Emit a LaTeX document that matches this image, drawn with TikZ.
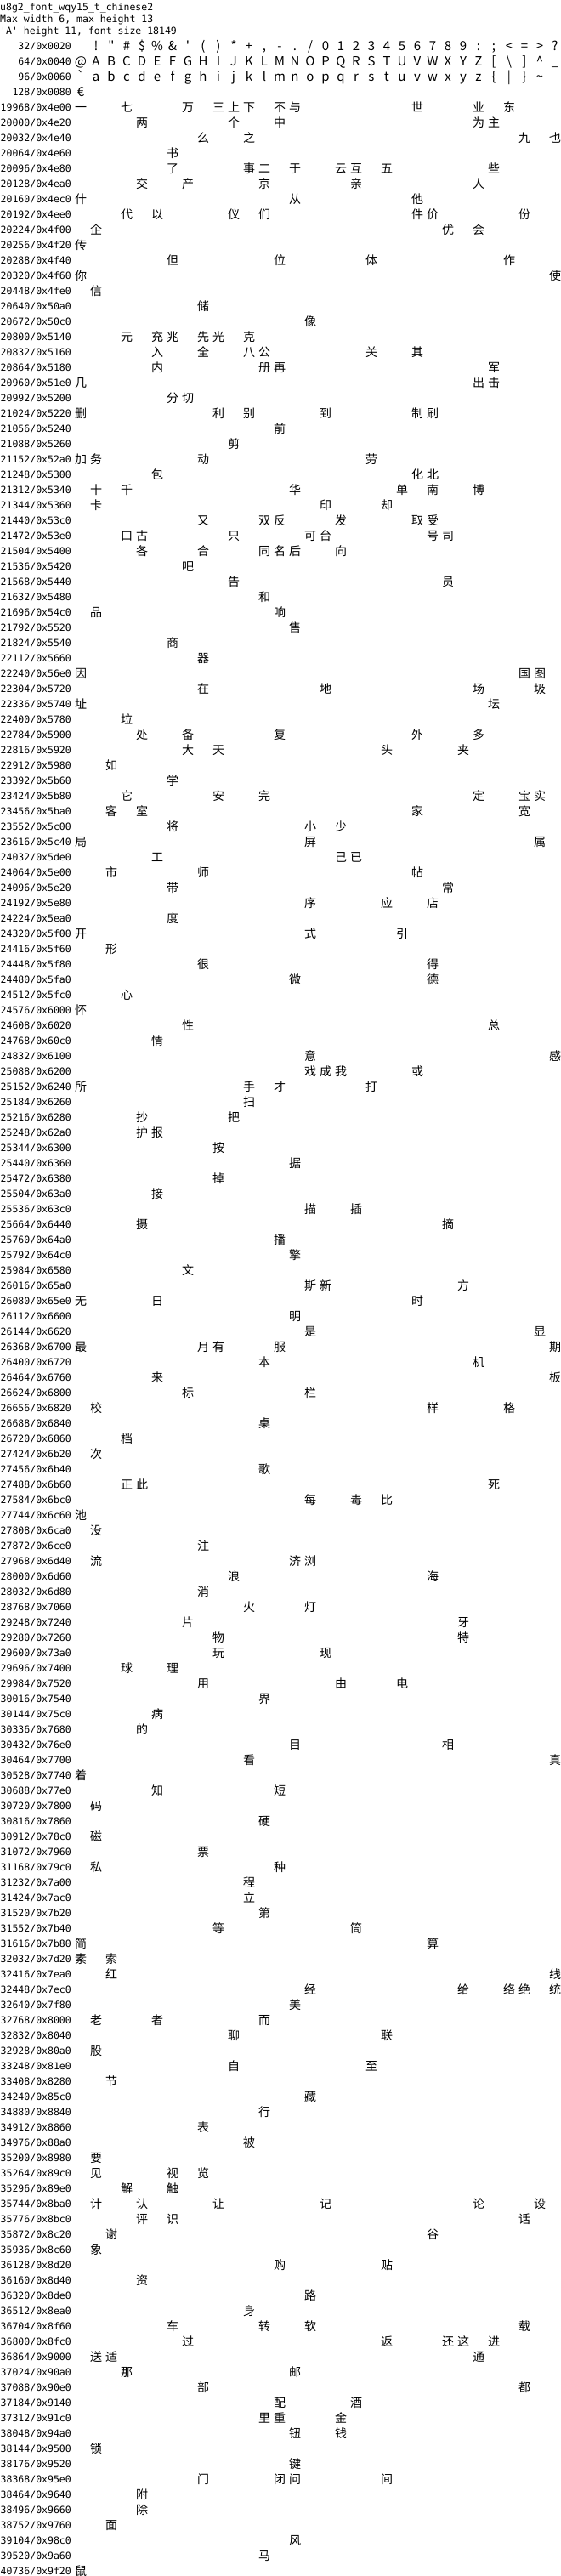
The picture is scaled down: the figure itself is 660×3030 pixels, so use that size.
\documentclass[tikz,border=0pt]{standalone}
\usepackage{fontspec}
\newfontfamily\cjkfont[Ligatures=TeXOff]{Noto Sans CJK SC}
\newfontfamily\lblfont[Ligatures=TeXOff]{DejaVu Sans Mono}
\tikzset{
  lbl/.style={anchor=base east, inner sep=0pt, font=\lblfont\fontsize{11.5}{12}\selectfont},
  hdr/.style={anchor=base west, inner sep=0pt, font=\lblfont\fontsize{11.5}{12}\selectfont},
  glyph/.style={anchor=base, inner sep=0pt, font=\cjkfont\fontsize{14}{15}\selectfont},
  asc/.style={anchor=base, inner sep=0pt, font=\cjkfont\fontsize{15}{16}\selectfont},
}
\def\rowstart{0}
\def\rowk{0}
\newcommand\glyphrow[4]{%
  \pgfmathsetmacro\ly{130.5+18*#1}%
  \node[lbl] (row#2) at (84,\ly) {#2/0x#3};%
  \def\rowstart{#2}\def\rowk{#1}%
  \glyphloop#4\relax}
\def\glyphloop#1{\ifx\relax#1\else\placeglyph{#1}\expandafter\glyphloop\fi}
\newcommand\placeglyph[1]{%
  \edef\cpnum{\number`#1}%
  \edef\gx{\the\numexpr 95+18*(\cpnum-\rowstart)\relax}%
  \edef\gy{\the\numexpr 131+18*\rowk\relax}%
  \node[glyph] (g\cpnum) at (\gx,\gy) {#1};}
\begin{document}
\begin{tikzpicture}[x=1pt,y=-1pt]
\fill[white] (0,0) rectangle (660,3030);
\useasboundingbox (0,0) rectangle (660,3030);
% header
\node[hdr] (title) at (0,12.3) {u8g2\_font\_wqy15\_t\_chinese2};
\node[hdr] (maxw) at (0,26.7) {Max width 6, max height 13};
\node[hdr] (aheight) at (0,40.8) {\char39 A\char39{} height 11, font size 18149};
% ASCII rows
\node[lbl] (row32) at (84,58.5) {32/0x0020};
\node[lbl] (row64) at (84,76.5) {64/0x0040};
\node[lbl] (row96) at (84,94.5) {96/0x0060};
\node[lbl] (row128) at (84,112.5) {128/0x0080};
\foreach \c in {33,...,63}{\pgfmathsetmacro\gx{95+18*(\c-32)}\node[asc] (a\c) at (\gx,59) {\char\c\relax};}
\foreach \c in {64,...,95}{\pgfmathsetmacro\gx{95+18*(\c-64)}\node[asc] (a\c) at (\gx,77) {\char\c\relax};}
\foreach \c in {96,...,126}{\pgfmathsetmacro\gx{95+18*(\c-96)}\node[asc] (a\c) at (\gx,95) {\char\c\relax};}
\node[asc] (a128) at (95,113) {€};
% CJK rows
\glyphrow{0}{19968}{4e00}{一七万三上下不与世业东}
\glyphrow{1}{20000}{4e20}{两个中为主}
\glyphrow{2}{20032}{4e40}{么之九也}
\glyphrow{3}{20064}{4e60}{书}
\glyphrow{4}{20096}{4e80}{了事二于云互五些}
\glyphrow{5}{20128}{4ea0}{交产京亲人}
\glyphrow{6}{20160}{4ec0}{什从他}
\glyphrow{7}{20192}{4ee0}{代以仪们件价份}
\glyphrow{8}{20224}{4f00}{企优会}
\glyphrow{9}{20256}{4f20}{传}
\glyphrow{10}{20288}{4f40}{但位体作}
\glyphrow{11}{20320}{4f60}{你使}
\glyphrow{12}{20448}{4fe0}{信}
\glyphrow{13}{20640}{50a0}{储}
\glyphrow{14}{20672}{50c0}{像}
\glyphrow{15}{20800}{5140}{元充兆先光克}
\glyphrow{16}{20832}{5160}{入全八公关其}
\glyphrow{17}{20864}{5180}{内册再军}
\glyphrow{18}{20960}{51e0}{几出击}
\glyphrow{19}{20992}{5200}{分切}
\glyphrow{20}{21024}{5220}{删利别到制刷}
\glyphrow{21}{21056}{5240}{前}
\glyphrow{22}{21088}{5260}{剪}
\glyphrow{23}{21152}{52a0}{加务动劳}
\glyphrow{24}{21248}{5300}{包化北}
\glyphrow{25}{21312}{5340}{十千华单南博}
\glyphrow{26}{21344}{5360}{卡印却}
\glyphrow{27}{21440}{53c0}{又双反发取受}
\glyphrow{28}{21472}{53e0}{口古只可台号司}
\glyphrow{29}{21504}{5400}{各合同名后向}
\glyphrow{30}{21536}{5420}{吧}
\glyphrow{31}{21568}{5440}{告员}
\glyphrow{32}{21632}{5480}{和}
\glyphrow{33}{21696}{54c0}{品响}
\glyphrow{34}{21792}{5520}{售}
\glyphrow{35}{21824}{5540}{商}
\glyphrow{36}{22112}{5660}{器}
\glyphrow{37}{22240}{56e0}{因国图}
\glyphrow{38}{22304}{5720}{在地场圾}
\glyphrow{39}{22336}{5740}{址坛}
\glyphrow{40}{22400}{5780}{垃}
\glyphrow{41}{22784}{5900}{处备复外多}
\glyphrow{42}{22816}{5920}{大天头夹}
\glyphrow{43}{22912}{5980}{如}
\glyphrow{44}{23392}{5b60}{学}
\glyphrow{45}{23424}{5b80}{它安完定宝实}
\glyphrow{46}{23456}{5ba0}{客室家宽}
\glyphrow{47}{23552}{5c00}{将小少}
\glyphrow{48}{23616}{5c40}{局屏属}
\glyphrow{49}{24032}{5de0}{工己已}
\glyphrow{50}{24064}{5e00}{市师帖}
\glyphrow{51}{24096}{5e20}{带常}
\glyphrow{52}{24192}{5e80}{序应店}
\glyphrow{53}{24224}{5ea0}{度}
\glyphrow{54}{24320}{5f00}{开式引}
\glyphrow{55}{24416}{5f60}{形}
\glyphrow{56}{24448}{5f80}{很得}
\glyphrow{57}{24480}{5fa0}{微德}
\glyphrow{58}{24512}{5fc0}{心}
\glyphrow{59}{24576}{6000}{怀}
\glyphrow{60}{24608}{6020}{性总}
\glyphrow{61}{24768}{60c0}{情}
\glyphrow{62}{24832}{6100}{意感}
\glyphrow{63}{25088}{6200}{戏成我或}
\glyphrow{64}{25152}{6240}{所手才打}
\glyphrow{65}{25184}{6260}{扫}
\glyphrow{66}{25216}{6280}{抄把}
\glyphrow{67}{25248}{62a0}{护报}
\glyphrow{68}{25344}{6300}{按}
\glyphrow{69}{25440}{6360}{据}
\glyphrow{70}{25472}{6380}{掉}
\glyphrow{71}{25504}{63a0}{接}
\glyphrow{72}{25536}{63c0}{描插}
\glyphrow{73}{25664}{6440}{摄摘}
\glyphrow{74}{25760}{64a0}{播}
\glyphrow{75}{25792}{64c0}{擎}
\glyphrow{76}{25984}{6580}{文}
\glyphrow{77}{26016}{65a0}{斯新方}
\glyphrow{78}{26080}{65e0}{无日时}
\glyphrow{79}{26112}{6600}{明}
\glyphrow{80}{26144}{6620}{是显}
\glyphrow{81}{26368}{6700}{最月有服期}
\glyphrow{82}{26400}{6720}{本机}
\glyphrow{83}{26464}{6760}{来板}
\glyphrow{84}{26624}{6800}{标栏}
\glyphrow{85}{26656}{6820}{校样格}
\glyphrow{86}{26688}{6840}{桌}
\glyphrow{87}{26720}{6860}{档}
\glyphrow{88}{27424}{6b20}{次}
\glyphrow{89}{27456}{6b40}{歌}
\glyphrow{90}{27488}{6b60}{正此死}
\glyphrow{91}{27584}{6bc0}{每毒比}
\glyphrow{92}{27744}{6c60}{池}
\glyphrow{93}{27808}{6ca0}{没}
\glyphrow{94}{27872}{6ce0}{注}
\glyphrow{95}{27968}{6d40}{流济浏}
\glyphrow{96}{28000}{6d60}{浪海}
\glyphrow{97}{28032}{6d80}{消}
\glyphrow{98}{28768}{7060}{火灯}
\glyphrow{99}{29248}{7240}{片牙}
\glyphrow{100}{29280}{7260}{物特}
\glyphrow{101}{29600}{73a0}{玩现}
\glyphrow{102}{29696}{7400}{球理}
\glyphrow{103}{29984}{7520}{用由电}
\glyphrow{104}{30016}{7540}{界}
\glyphrow{105}{30144}{75c0}{病}
\glyphrow{106}{30336}{7680}{的}
\glyphrow{107}{30432}{76e0}{目相}
\glyphrow{108}{30464}{7700}{看真}
\glyphrow{109}{30528}{7740}{着}
\glyphrow{110}{30688}{77e0}{知短}
\glyphrow{111}{30720}{7800}{码}
\glyphrow{112}{30816}{7860}{硬}
\glyphrow{113}{30912}{78c0}{磁}
\glyphrow{114}{31072}{7960}{票}
\glyphrow{115}{31168}{79c0}{私种}
\glyphrow{116}{31232}{7a00}{程}
\glyphrow{117}{31424}{7ac0}{立}
\glyphrow{118}{31520}{7b20}{第}
\glyphrow{119}{31552}{7b40}{等筒}
\glyphrow{120}{31616}{7b80}{简算}
\glyphrow{121}{32032}{7d20}{素索}
\glyphrow{122}{32416}{7ea0}{红线}
\glyphrow{123}{32448}{7ec0}{经给络绝统}
\glyphrow{124}{32640}{7f80}{美}
\glyphrow{125}{32768}{8000}{老者而}
\glyphrow{126}{32832}{8040}{聊联}
\glyphrow{127}{32928}{80a0}{股}
\glyphrow{128}{33248}{81e0}{自至}
\glyphrow{129}{33408}{8280}{节}
\glyphrow{130}{34240}{85c0}{藏}
\glyphrow{131}{34880}{8840}{行}
\glyphrow{132}{34912}{8860}{表}
\glyphrow{133}{34976}{88a0}{被}
\glyphrow{134}{35200}{8980}{要}
\glyphrow{135}{35264}{89c0}{见视览}
\glyphrow{136}{35296}{89e0}{解触}
\glyphrow{137}{35744}{8ba0}{计认让记论设}
\glyphrow{138}{35776}{8bc0}{评识话}
\glyphrow{139}{35872}{8c20}{谢谷}
\glyphrow{140}{35936}{8c60}{象}
\glyphrow{141}{36128}{8d20}{购贴}
\glyphrow{142}{36160}{8d40}{资}
\glyphrow{143}{36320}{8de0}{路}
\glyphrow{144}{36512}{8ea0}{身}
\glyphrow{145}{36704}{8f60}{车转软载}
\glyphrow{146}{36800}{8fc0}{过返还这进}
\glyphrow{147}{36864}{9000}{送适通}
\glyphrow{148}{37024}{90a0}{那邮}
\glyphrow{149}{37088}{90e0}{部都}
\glyphrow{150}{37184}{9140}{配酒}
\glyphrow{151}{37312}{91c0}{里重金}
\glyphrow{152}{38048}{94a0}{钮钱}
\glyphrow{153}{38144}{9500}{锁}
\glyphrow{154}{38176}{9520}{键}
\glyphrow{155}{38368}{95e0}{门闭问间}
\glyphrow{156}{38464}{9640}{附}
\glyphrow{157}{38496}{9660}{除}
\glyphrow{158}{38752}{9760}{面}
\glyphrow{159}{39104}{98c0}{风}
\glyphrow{160}{39520}{9a60}{马}
\glyphrow{161}{40736}{9f20}{鼠}
\end{tikzpicture}
\end{document}
